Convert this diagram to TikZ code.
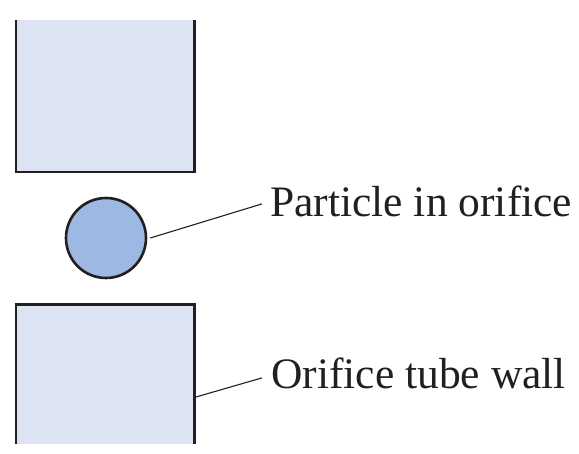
\documentclass[tikz,border=0pt]{standalone}
\usepackage{fontspec}
\setmainfont{Liberation Serif}
\definecolor{wallfill}{HTML}{DCE4F4}
\definecolor{partfill}{HTML}{9DB8E3}
\definecolor{ink}{HTML}{231F20}
\begin{document}
\begin{tikzpicture}[x=1pt,y=-1pt,
  wall/.style={draw=none,fill=wallfill,inner sep=0,minimum width=178pt},
  wallside/.style={draw=ink,line width=2.6pt,line join=miter},
  particle/.style={circle,draw=ink,fill=partfill,line width=2.6pt,minimum size=80pt,inner sep=0},
  lbl/.style={inner sep=0,anchor=base west,font=\fontsize{43.5}{48}\selectfont,text=ink},
  leader/.style={draw=ink,line width=1.1pt}]
\useasboundingbox (0,0) rectangle (579,454);
\node[wall,minimum height=152pt] (topw) at (105,96) {};
\draw[wallside] (topw.north west) -- (topw.south west) -- (topw.south east) -- (topw.north east);
\node[wall,minimum height=139pt] (botw) at (105,374.5) {};
\draw[wallside] (botw.south west) -- (botw.north west) -- (botw.north east) -- (botw.south east);
\node[particle] (p) at (106,238) {};
\node[lbl] (lp) at (270,217) {Particle in orifice};
\node[lbl] (lw) at (271,389) {Orifice tube wall};
\draw[leader] ([xshift=3pt]p.east) -- ([xshift=-8pt,yshift=-2pt]lp.west);
\draw[leader] ([yshift=-23pt]botw.east) -- ([xshift=-9pt,yshift=-4pt]lw.west);
\end{tikzpicture}
\end{document}
